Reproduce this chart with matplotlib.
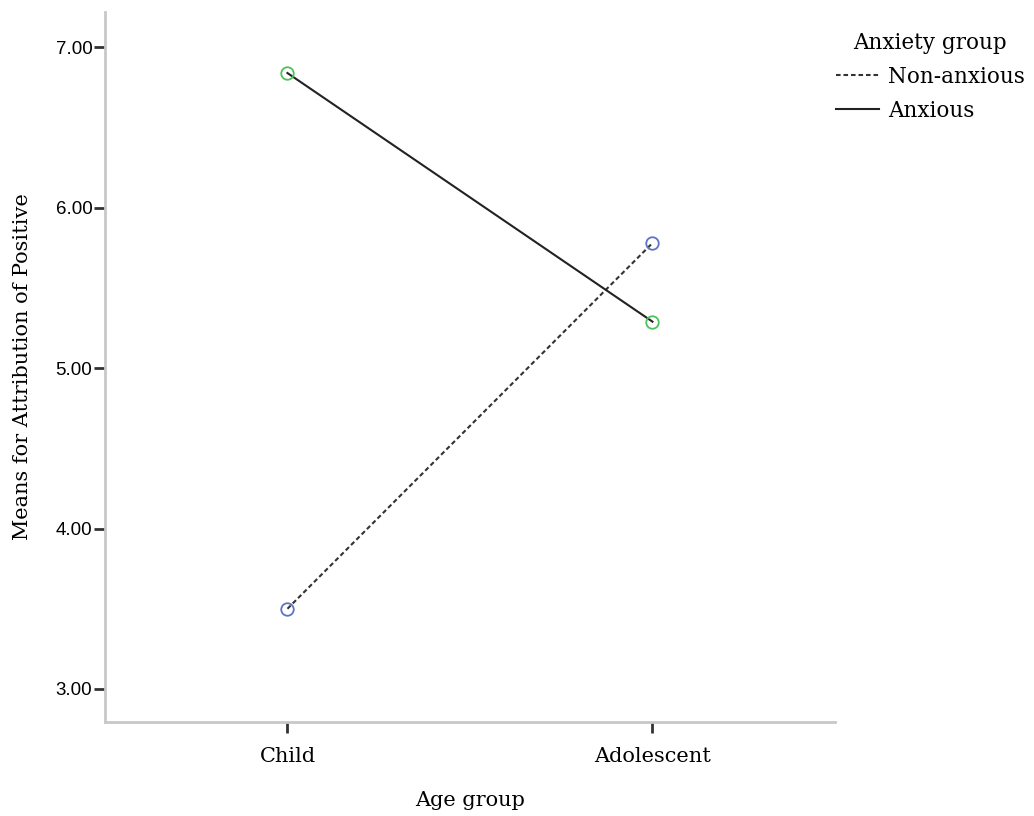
import matplotlib
matplotlib.use("Agg")
import matplotlib.pyplot as plt
from matplotlib.lines import Line2D

# data
age_groups = ["Child", "Adolescent"]
non_anxious = [3.50, 5.78]
anxious = [6.84, 5.29]
y_ticks = [3.0, 4.0, 5.0, 6.0, 7.0]

serif = "DejaVu Serif"
sans = "Liberation Sans"

fig = plt.figure(figsize=(10.34, 8.16), dpi=100)
ax = fig.add_axes([0.1015, 0.1152, 0.706, 0.870])

x = list(range(len(age_groups)))
ax.plot(x, non_anxious, color="#333333", lw=1.5, ls=(0, (2.2, 1.4)), zorder=2)
ax.plot(x, anxious, color="#222222", lw=1.5, ls="-", zorder=2)
ax.plot(x, non_anxious, ls="none", marker="o", ms=9, mfc="none",
        mec="#5b74c8", mew=1.3, zorder=3)
ax.plot(x, anxious, ls="none", marker="o", ms=9, mfc="none",
        mec="#4cc35a", mew=1.3, zorder=3)

ax.set_xlim(-0.5, 1.5)
ax.set_ylim(2.794, 7.22)
ax.set_xticks(x)
ax.set_xticklabels(age_groups, family=serif, fontsize=15)
ax.set_yticks(y_ticks)
ax.set_yticklabels([f"{v:.2f}" for v in y_ticks], family=sans, fontsize=13.5)
ax.tick_params(axis="both", length=8, width=2, color="#333333", direction="out")
ax.tick_params(axis="y", pad=1)
ax.tick_params(axis="x", pad=10)

for side in ["top", "right"]:
    ax.spines[side].set_visible(False)
for side in ["left", "bottom"]:
    ax.spines[side].set_color("#c8c8c8")
    ax.spines[side].set_linewidth(2)

ax.set_xlabel("Age group", family=serif, fontsize=15, labelpad=18)
ax.set_ylabel("Means for Attribution of Positive", family=serif, fontsize=15, labelpad=17)

handles = [Line2D([], [], color="#333333", lw=1.5, ls=(0, (2.2, 1.4))),
           Line2D([], [], color="#222222", lw=1.5)]
leg = fig.legend(handles, ["Non-anxious", "Anxious"], title="Anxiety group",
                 loc="upper left", bbox_to_anchor=(0.798, 0.974), frameon=False,
                 prop={"family": serif, "size": 15.5}, handlelength=2.0,
                 handletextpad=0.42, labelspacing=0.55, borderpad=0.0)
leg.get_title().set_family(serif)
leg.get_title().set_fontsize(15.5)

fig.savefig("out.png", dpi=100)
